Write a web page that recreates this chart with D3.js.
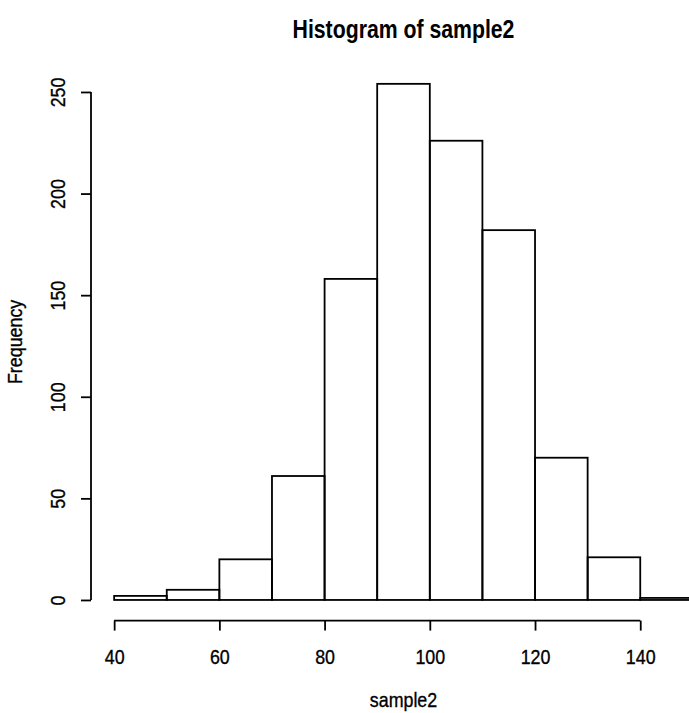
<!DOCTYPE html>
<html>
<head>
<meta charset="utf-8">
<script src="https://cdn.jsdelivr.net/npm/d3@7"></script>
<style>
  body { margin: 0; background: #fff; }
  text { font-family: "Liberation Sans Narrow", "Arial Narrow", "Liberation Sans", sans-serif; fill: #000; }
  .lab { stroke: #000; stroke-width: 0.35px; }
</style>
</head>
<body>
<div id="chart"></div>
<script>
// histogram bins (left edges) and counts
const binStarts = [40, 50, 60, 70, 80, 90, 100, 110, 120, 130, 140];
const binWidth = 10;
const counts = [2, 5, 20, 61, 158, 254, 226, 182, 70, 21, 1];
const xTicks = [40, 60, 80, 100, 120, 140];
const yTicks = [0, 50, 100, 150, 200, 250];

const W = 689, H = 713;
const narrow = "scale(0.85,1)"; // narrow font look, no condensed face installed
const lw = 1.8;

const svg = d3.select("#chart")
    .append("svg")
    .attr("width", W)
    .attr("height", H);

// R style: 4% padding around the data range
const xMin = 40, xMax = 150;
const xPad = (xMax - xMin) * 0.04;
const yMax = d3.max(counts);
const yPad = yMax * 0.04;

const x = d3.scaleLinear()
    .domain([xMin - xPad, xMax + xPad])
    .range([91, 716]);

const y = d3.scaleLinear()
    .domain([-yPad, yMax + yPad])
    .range([620.6, 63.2]);

const data = binStarts.map((s, i) => ({ x0: s, x1: s + binWidth, n: counts[i] }));

// bars
svg.selectAll(".bar")
    .data(data)
    .enter()
    .append("rect")
    .attr("class", "bar")
    .attr("x", d => x(d.x0))
    .attr("width", d => x(d.x1) - x(d.x0))
    .attr("y", d => y(d.n))
    .attr("height", d => y(0) - y(d.n))
    .attr("fill", "none")
    .attr("stroke", "black")
    .attr("stroke-width", lw);

// x axis
const xAxis = svg.append("g")
    .attr("transform", "translate(0," + y(-yPad) + ")")
    .call(d3.axisBottom(x).tickValues(xTicks).tickSize(10).tickSizeOuter(0).tickFormat(d3.format("d")));
xAxis.select(".domain").remove();
xAxis.append("line")
    .attr("x1", x(xTicks[0]))
    .attr("x2", x(xTicks[xTicks.length - 1]))
    .attr("stroke", "black")
    .attr("stroke-width", lw);
xAxis.selectAll(".tick line").attr("stroke", "black").attr("stroke-width", lw);
xAxis.selectAll(".tick text")
    .attr("class", "lab")
    .attr("y", 0)
    .attr("dy", null)
    .attr("transform", "translate(0,43) " + narrow)
    .style("font-size", "21px")
    .style("font-family", null);

// y axis
const yAxis = svg.append("g")
    .attr("transform", "translate(" + x(xMin - xPad) + ",0)")
    .call(d3.axisLeft(y).tickValues(yTicks).tickSize(10).tickSizeOuter(0));
yAxis.select(".domain").remove();
yAxis.append("line")
    .attr("y1", y(yTicks[0]))
    .attr("y2", y(yTicks[yTicks.length - 1]))
    .attr("stroke", "black")
    .attr("stroke-width", lw);
yAxis.selectAll(".tick line").attr("stroke", "black").attr("stroke-width", lw);
yAxis.selectAll(".tick text")
    .attr("class", "lab")
    .attr("x", null)
    .attr("dy", null)
    .attr("text-anchor", "middle")
    .attr("transform", "translate(-26,0) rotate(-90) " + narrow)
    .style("font-size", "21px")
    .style("font-family", null);

// title and axis labels
const cx = (x(xMin - xPad) + x(xMax + xPad)) / 2;

svg.append("text")
    .attr("transform", "translate(" + cx + ",38) " + narrow)
    .attr("text-anchor", "middle")
    .style("font-size", "25px")
    .style("font-weight", "bold")
    .text("Histogram of sample2");

svg.append("text")
    .attr("class", "lab")
    .attr("transform", "translate(" + cx + ",707) " + narrow)
    .attr("text-anchor", "middle")
    .style("font-size", "21px")
    .text("sample2");

svg.append("text")
    .attr("class", "lab")
    .attr("transform", "translate(22," + (y(-yPad) + y(yMax + yPad)) / 2 + ") rotate(-90) " + narrow)
    .attr("text-anchor", "middle")
    .style("font-size", "21px")
    .text("Frequency");
</script>
</body>
</html>
